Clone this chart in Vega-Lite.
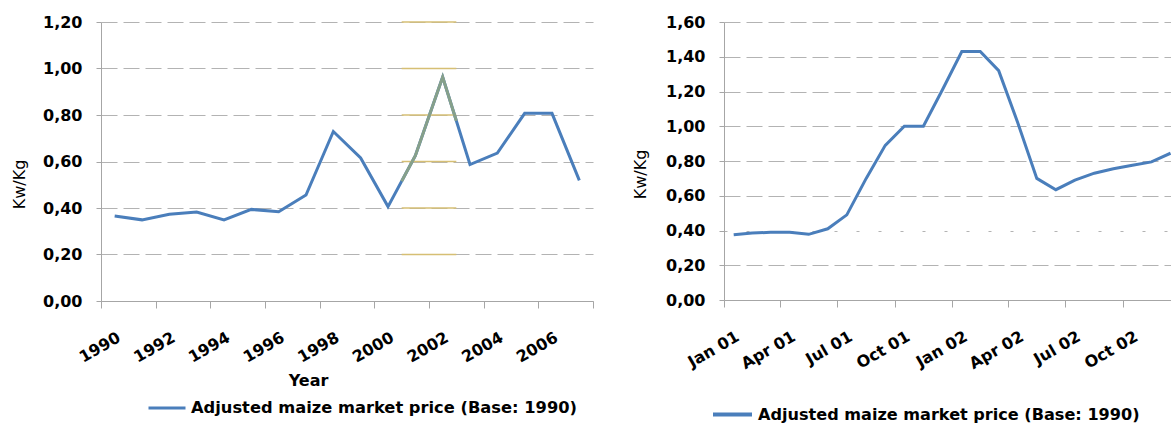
{
  "$schema": "https://vega.github.io/schema/vega-lite/v6.json",
  "padding": {"left": 11, "top": 14, "right": 0, "bottom": 0},
  "spacing": 17,
  "resolve": {"scale": {"color": "independent"}, "legend": {"color": "independent"}},
  "config": {
    "view": {"stroke": null},
    "font": "DejaVu Sans",
    "axis": {
      "domainColor": "#a6a6a6",
      "tickColor": "#a6a6a6",
      "gridColor": "#b3b3b3",
      "labelFont": "DejaVu Sans",
      "labelFontWeight": "bold",
      "labelFontSize": 16,
      "labelColor": "#000000",
      "titleFont": "DejaVu Sans",
      "titleColor": "#000000"
    },
    "legend": {
      "orient": "none",
      "symbolType": "stroke",
      "labelFont": "DejaVu Sans",
      "labelFontWeight": "bold",
      "labelFontSize": 16.3,
      "labelColor": "#000000",
      "labelLimit": 0,
      "padding": 0,
      "title": null
    }
  },
  "hconcat": [
    {
      "width": 492,
      "height": 279,
      "layer": [
        {
          "data": {"values": [
            {"year": 1990, "price": 0.366},
            {"year": 1991, "price": 0.349},
            {"year": 1992, "price": 0.373},
            {"year": 1993, "price": 0.383},
            {"year": 1994, "price": 0.349},
            {"year": 1995, "price": 0.394},
            {"year": 1996, "price": 0.384},
            {"year": 1997, "price": 0.456},
            {"year": 1998, "price": 0.729},
            {"year": 1999, "price": 0.615},
            {"year": 2000, "price": 0.406},
            {"year": 2001, "price": 0.625},
            {"year": 2002, "price": 0.963},
            {"year": 2003, "price": 0.587},
            {"year": 2004, "price": 0.636},
            {"year": 2005, "price": 0.807},
            {"year": 2006, "price": 0.807},
            {"year": 2007, "price": 0.519}
          ]},
          "mark": {"type": "line", "strokeWidth": 3},
          "encoding": {
            "x": {
              "field": "year", "type": "quantitative",
              "scale": {"domain": [1989.5, 2007.5], "nice": false, "zero": false},
              "axis": {
                "values": [1989.5, 1990.5, 1991.5, 1992.5, 1993.5, 1994.5, 1995.5, 1996.5, 1997.5, 1998.5, 1999.5, 2000.5, 2001.5, 2002.5, 2003.5, 2004.5, 2005.5, 2006.5, 2007.5],
                "labelExpr": "(datum.value - 1989.5) % 2 == 0 && datum.value < 2007 ? format(datum.value + 0.5, 'd') : ''",
                "labelOffset": 13.7,
                "labelAngle": -30,
                "labelAlign": "right",
                "labelBaseline": "top",
                "labelPadding": 21,
                "labelOverlap": false,
                "labelFlush": false,
                "tickSize": 7,
                "grid": false,
                "title": "Year",
                "titleFontWeight": "bold",
                "titleFontSize": 16,
                "titleX": 207,
                "titleY": 79,
                "titleBaseline": "middle",
                "titleAlign": "center"
              }
            },
            "y": {
              "field": "price", "type": "quantitative",
              "scale": {"domain": [0, 1.2], "nice": false},
              "axis": {
                "values": [0, 0.2, 0.4, 0.6, 0.8, 1.0, 1.2],
                "labelExpr": "replace(format(datum.value, '.2f'), '.', ',')",
                "grid": true,
                "gridDash": [16, 6],
                "tickSize": 5,
                "labelPadding": 14,
                "title": "Kw/Kg",
                "titleFontWeight": "normal",
                "titleFontSize": 16,
                "titleX": -82,
                "titleY": 162,
                "titleBaseline": "middle",
                "titleAlign": "center"
              }
            },
            "color": {
              "datum": "Adjusted maize market price (Base: 1990)",
              "type": "nominal",
              "scale": {"range": ["#4a7ebb"]},
              "legend": {"legendX": 46, "legendY": 366, "symbolSize": 1369, "symbolStrokeWidth": 3}
            }
          }
        },
        {
          "data": {"values": [
            {"price": 0.2}, {"price": 0.4}, {"price": 0.6}, {"price": 0.8}, {"price": 1.0}, {"price": 1.2}
          ]},
          "mark": {"type": "rule", "color": "#d6bf74", "strokeWidth": 1.5},
          "encoding": {
            "x": {"datum": 2000.5, "type": "quantitative"},
            "x2": {"datum": 2002.5},
            "y": {"field": "price", "type": "quantitative"}
          }
        },
        {
          "data": {"values": [
            {"year": 2000.5, "price": 0.515},
            {"year": 2001, "price": 0.625},
            {"year": 2002, "price": 0.963},
            {"year": 2002.5, "price": 0.775}
          ]},
          "mark": {"type": "line", "strokeWidth": 3, "color": "#86a08a"},
          "encoding": {
            "x": {"field": "year", "type": "quantitative"},
            "y": {"field": "price", "type": "quantitative"}
          }
        }
      ]
    },
    {
      "width": 450,
      "height": 278,
      "data": {"values": [
        {"month": "2001-01-15", "price": 0.375},
        {"month": "2001-02-15", "price": 0.385},
        {"month": "2001-03-15", "price": 0.39},
        {"month": "2001-04-15", "price": 0.39},
        {"month": "2001-05-15", "price": 0.378},
        {"month": "2001-06-15", "price": 0.41},
        {"month": "2001-07-15", "price": 0.49},
        {"month": "2001-08-15", "price": 0.70},
        {"month": "2001-09-15", "price": 0.89},
        {"month": "2001-10-15", "price": 1.0},
        {"month": "2001-11-15", "price": 1.0},
        {"month": "2001-12-15", "price": 1.21},
        {"month": "2002-01-15", "price": 1.43},
        {"month": "2002-02-15", "price": 1.43},
        {"month": "2002-03-15", "price": 1.32},
        {"month": "2002-04-15", "price": 1.02},
        {"month": "2002-05-15", "price": 0.70},
        {"month": "2002-06-15", "price": 0.635},
        {"month": "2002-07-15", "price": 0.69},
        {"month": "2002-08-15", "price": 0.73},
        {"month": "2002-09-15", "price": 0.755},
        {"month": "2002-10-15", "price": 0.775},
        {"month": "2002-11-15", "price": 0.795},
        {"month": "2002-12-15", "price": 0.845}
      ]},
      "mark": {"type": "line", "strokeWidth": 3, "clip": true},
      "encoding": {
        "x": {
          "field": "month", "type": "temporal", "timeUnit": "yearmonth", "bandPosition": 0.5,
          "scale": {"domain": [{"year": 2001, "month": 1, "date": 1}, {"year": 2002, "month": 12, "date": 22}], "nice": false},
          "axis": {
            "values": [
              {"year": 2001, "month": 1, "date": 1},
              {"year": 2001, "month": 4, "date": 1},
              {"year": 2001, "month": 7, "date": 1},
              {"year": 2001, "month": 10, "date": 1},
              {"year": 2002, "month": 1, "date": 1},
              {"year": 2002, "month": 4, "date": 1},
              {"year": 2002, "month": 7, "date": 1},
              {"year": 2002, "month": 10, "date": 1}
            ],
            "labelExpr": "timeFormat(datum.value, '%b %y')",
            "labelOffset": 9.5,
            "labelAngle": -30,
            "labelAlign": "right",
            "labelBaseline": "top",
            "labelPadding": 21,
            "labelOverlap": false,
            "labelFlush": false,
            "tickSize": 7,
            "grid": false,
            "title": null
          }
        },
        "y": {
          "field": "price", "type": "quantitative",
          "scale": {"domain": [0, 1.6], "nice": false},
          "axis": {
            "values": [0, 0.2, 0.4, 0.6, 0.8, 1.0, 1.2, 1.4, 1.6],
            "labelExpr": "replace(format(datum.value, '.2f'), '.', ',')",
            "grid": true,
            "gridDash": {"condition": {"test": "abs(datum.value - 0.4) < 0.001", "value": [3, 19]}, "value": [16, 6]},
            "tickSize": 5,
            "labelPadding": 14,
            "title": "Kw/Kg",
            "titleFontWeight": "normal",
            "titleFontSize": 16,
            "titleX": -84,
            "titleY": 152,
            "titleBaseline": "middle",
            "titleAlign": "center"
          }
        },
        "color": {
          "datum": "Adjusted maize market price (Base: 1990)",
          "type": "nominal",
          "scale": {"range": ["#4a7ebb"]},
          "legend": {"legendX": -13, "legendY": 371, "symbolSize": 1521, "symbolStrokeWidth": 4, "labelFontSize": 16.1}
        }
      }
    }
  ]
}
